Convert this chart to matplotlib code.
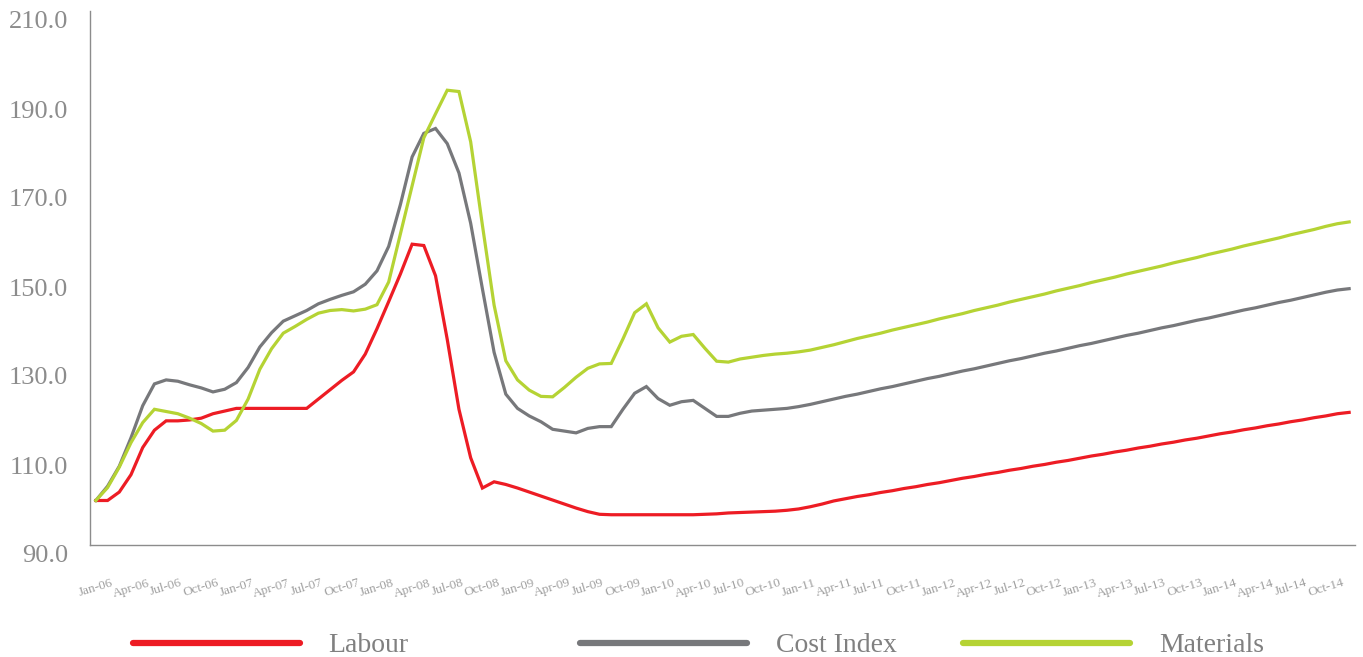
import numpy as np
import matplotlib.pyplot as plt
from matplotlib import transforms
from matplotlib.lines import Line2D

# monthly index, Jan-06 .. Dec-14 (Jan-06 = 100)
labour = [100.0, 100.0, 101.9, 105.8, 111.9, 115.8, 117.9, 117.9, 118.1, 118.5,
          119.5, 120.1, 120.7, 120.7, 120.7, 120.7, 120.7, 120.7, 120.7, 122.8,
          124.9, 127.0, 128.9, 132.9, 138.6, 144.7, 150.9, 157.6, 157.3, 150.5,
          136.2, 120.5, 109.6, 102.8, 104.2, 103.6, 102.8, 101.9, 101.0, 100.1,
          99.2, 98.3, 97.5, 96.9, 96.8, 96.8, 96.8, 96.8, 96.8, 96.8,
          96.8, 96.8, 96.9, 97.0, 97.2, 97.3, 97.4, 97.5, 97.6, 97.8,
          98.1, 98.6, 99.2, 99.9, 100.4, 100.9, 101.3, 101.8, 102.2, 102.7,
          103.1, 103.6, 104.0, 104.5, 105.0, 105.4, 105.9, 106.3, 106.8, 107.2,
          107.7, 108.1, 108.6, 109.0, 109.5, 110.0, 110.4, 110.9, 111.3, 111.8,
          112.2, 112.7, 113.1, 113.6, 114.0, 114.5, 115.0, 115.4, 115.9, 116.3,
          116.8, 117.2, 117.7, 118.1, 118.6, 119.0, 119.5, 119.8]

cost_index = [100.0, 103.2, 107.7, 114.1, 121.3, 126.2, 127.1, 126.8, 126.0, 125.3,
              124.4, 125.0, 126.5, 129.9, 134.5, 137.7, 140.3, 141.5, 142.7, 144.2,
              145.2, 146.1, 146.9, 148.6, 151.6, 157.1, 166.5, 177.2, 182.5, 183.6,
              180.2, 173.6, 162.3, 147.6, 133.3, 123.9, 120.7, 119.0, 117.7, 116.0,
              115.6, 115.2, 116.2, 116.6, 116.6, 120.5, 124.1, 125.6, 122.9, 121.4,
              122.2, 122.5, 120.7, 118.9, 118.9, 119.6, 120.1, 120.3, 120.5, 120.7,
              121.1, 121.6, 122.2, 122.8, 123.4, 123.9, 124.5, 125.1, 125.6, 126.2,
              126.8, 127.4, 127.9, 128.5, 129.1, 129.6, 130.2, 130.8, 131.4, 131.9,
              132.5, 133.1, 133.6, 134.2, 134.8, 135.3, 135.9, 136.5, 137.1, 137.6,
              138.2, 138.8, 139.3, 139.9, 140.5, 141.0, 141.6, 142.2, 142.8, 143.3,
              143.9, 144.5, 145.0, 145.6, 146.2, 146.8, 147.3, 147.6]

materials = [100.0, 102.9, 107.5, 113.0, 117.5, 120.5, 120.0, 119.5, 118.5, 117.3,
             115.6, 115.8, 118.0, 122.8, 129.5, 134.1, 137.6, 139.1, 140.7, 142.1,
             142.7, 142.9, 142.6, 143.0, 144.0, 149.1, 159.9, 170.7, 181.5, 186.9,
             192.2, 191.9, 180.6, 161.9, 143.9, 131.4, 127.1, 124.8, 123.4, 123.3,
             125.4, 127.7, 129.7, 130.7, 130.8, 136.3, 142.2, 144.2, 138.8, 135.6,
             136.9, 137.3, 134.2, 131.3, 131.1, 131.8, 132.2, 132.6, 132.9, 133.1,
             133.4, 133.8, 134.4, 135.0, 135.7, 136.4, 137.0, 137.6, 138.3, 138.9,
             139.5, 140.1, 140.8, 141.4, 142.0, 142.7, 143.3, 143.9, 144.6, 145.2,
             145.8, 146.4, 147.1, 147.7, 148.3, 149.0, 149.6, 150.2, 150.9, 151.5,
             152.1, 152.7, 153.4, 154.0, 154.6, 155.3, 155.9, 156.5, 157.2, 157.8,
             158.4, 159.0, 159.7, 160.3, 160.9, 161.6, 162.2, 162.6]

tick_labels = ['Jan-06', 'Apr-06', 'Jul-06', 'Oct-06', 'Jan-07', 'Apr-07', 'Jul-07', 'Oct-07',
               'Jan-08', 'Apr-08', 'Jul-08', 'Oct-08', 'Jan-09', 'Apr-09', 'Jul-09', 'Oct-09',
               'Jan-10', 'Apr-10', 'Jul-10', 'Oct-10', 'Jan-11', 'Apr-11', 'Jul-11', 'Oct-11',
               'Jan-12', 'Apr-12', 'Jul-12', 'Oct-12', 'Jan-13', 'Apr-13', 'Jul-13', 'Oct-13',
               'Jan-14', 'Apr-14', 'Jul-14', 'Oct-14']

series_names = ['Labour', 'Cost Index', 'Materials']
colors = ['#ED1C24', '#77787B', '#B5D334']

plt.rcParams['font.family'] = ['Liberation Serif', 'DejaVu Serif']

fig = plt.figure(figsize=(13.63, 6.57), dpi=100)
ax = fig.add_axes([90 / 1363, 1 - 545 / 657, 1265 / 1363, 534 / 657])

x = np.arange(len(labour))
for vals, c in zip([labour, cost_index, materials], colors):
    ax.plot(x, vals, color=c, lw=2.3, solid_joinstyle='miter')

ax.set_xlim(-0.5, len(labour) - 0.5)
ax.set_ylim(90, 210)

ax.set_yticks(np.arange(90, 211, 20))
ax.set_yticklabels([f'{v:.1f}' for v in np.arange(90, 211, 20)])
ax.tick_params(axis='y', length=0, pad=16, labelsize=19, labelcolor='#8C8C8C')
shift = transforms.ScaledTranslation(0, -0.09, fig.dpi_scale_trans)
for lab in ax.get_yticklabels():
    lab.set_transform(lab.get_transform() + shift)

ax.set_xticks(np.arange(0, len(tick_labels) * 3, 3))
ax.set_xticklabels(tick_labels, rotation=17, ha='center')
ax.tick_params(axis='x', length=0, pad=23, labelsize=9.5, labelcolor='#A0A0A0')

for s in ['top', 'right']:
    ax.spines[s].set_visible(False)
for s in ['left', 'bottom']:
    ax.spines[s].set_color('#8C8C8C')
    ax.spines[s].set_linewidth(1.0)

# legend along the bottom
leg_y = 1 - 643 / 657
for name, c, x0, tx in zip(series_names, colors, [133, 580, 963], [328, 776, 1159]):
    fig.add_artist(Line2D([x0 / 1363, (x0 + 167) / 1363], [leg_y, leg_y], color=c,
                          lw=4.5, solid_capstyle='round', transform=fig.transFigure))
    fig.text(tx / 1363, leg_y - 0.004, name, fontsize=20, color='#808080', va='center')

fig.savefig('out.png', dpi=100)
